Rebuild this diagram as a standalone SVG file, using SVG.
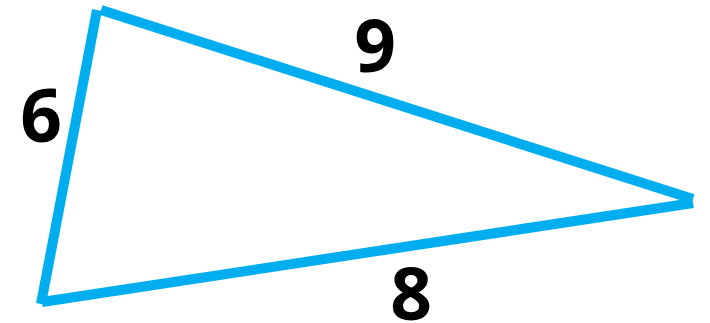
<svg xmlns="http://www.w3.org/2000/svg" width="710" height="323" viewBox="0 0 710 323">
<style>
.edge{stroke:#00AEEF;stroke-width:10;fill:none;stroke-linecap:butt}
.lbl{font-family:"Open Sans","Liberation Sans",sans-serif;font-weight:bold;font-size:73px;fill:#000;text-anchor:middle}
</style>
<rect width="710" height="323" fill="#fff"/>
<g id="connectors">
<line class="edge" x1="97" y1="10" x2="41" y2="304"/>
<line class="edge" x1="101" y1="10" x2="693" y2="199"/>
<line class="edge" x1="42" y1="302" x2="693" y2="203"/>
</g>
<g id="label-6"><text class="lbl" x="41" y="142">6</text></g>
<g id="label-9"><text class="lbl" x="375" y="72">9</text></g>
<g id="label-8"><text class="lbl" x="411" y="320">8</text></g>
</svg>
